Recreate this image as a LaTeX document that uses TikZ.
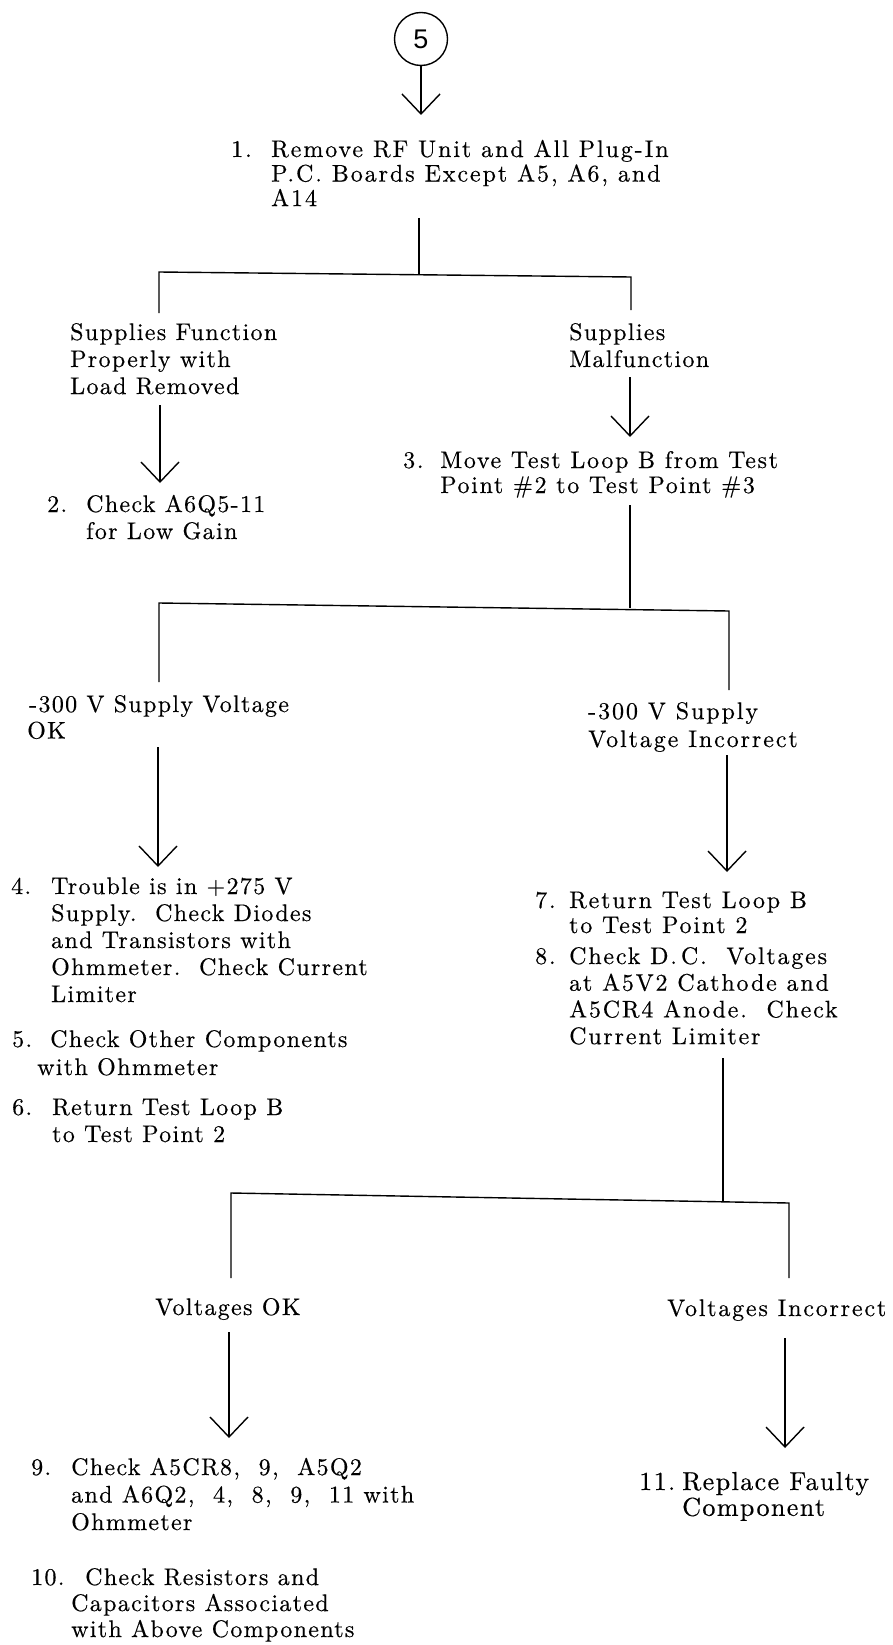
\documentclass[tikz,border=0pt]{standalone}
\usepackage{fontspec}
\setmainfont{lmroman10-regular.otf}[LetterSpace=5.5,FakeBold=0.4]
\newfontfamily\circfont{Liberation Sans}
\usetikzlibrary{arrows.meta}
\newcommand\itm[2]{\begin{tabular}[t]{@{}p{#1}@{}l@{}}#2\end{tabular}}
\newcommand\lns[1]{\begin{tabular}[t]{@{}l@{}}#1\end{tabular}}
\newcommand\wide[1]{\addfontfeatures{LetterSpace=#1}}
\begin{document}
\begin{tikzpicture}[x=1pt,y=-1pt,
  ln/.style={line width=1.4pt},
  arr/.style={ln,-{Straight Barb[length=20pt,width=38pt]}},
  txt/.style={anchor=base west,inner sep=0pt,font=\fontsize{24}{27}\selectfont},
  circ/.style={circle,draw,line width=1.4pt,minimum size=53pt,inner sep=0pt,font=\circfont\fontsize{27}{30}\selectfont}
]
\useasboundingbox (0,0) rectangle (893,1645);

% start circle
\node[circ] (c5) at (421,39) {5};
\coordinate (t1) at (421,115);
\draw[arr] (c5.south) -- (t1);

% step 1
\node[txt,font=\fontsize{24}{24.5}\selectfont\wide{8}] (b1) at (231,157)
  {\itm{40pt}{1.&Remove RF Unit and All Plug-In\\&P.C. Boards Except A5, A6, and\\&A14}};

\coordinate (v1a) at (419,218);
\coordinate (v1b) at (419,274);
\coordinate (h1l) at (159,272);
\coordinate (h1r) at (631,277);
\coordinate (l1b) at (159,313);
\coordinate (r1b) at (631,310);
\draw[ln] (v1a) -- (v1b);
\draw[ln] (l1b) -- (h1l) -- (h1r) -- (r1b);

% left branch
\node[txt] (sf) at (70,340) {\lns{Supplies Function\\Properly with\\Load Removed}};
\coordinate (a2a) at (160,405);
\coordinate (a2b) at (160,483);
\draw[arr] (a2a) -- (a2b);
\node[txt] (b2) at (47,512) {\itm{39pt}{2.&Check A6Q5-11\\&for Low Gain}};

% right branch
\node[txt] (sm) at (569,340) {\lns{Supplies\\Malfunction}};
\coordinate (a3a) at (630,377);
\coordinate (a3b) at (630,437);
\draw[arr] (a3a) -- (a3b);
\node[txt,font=\fontsize{24}{25}\selectfont\wide{7}] (b3) at (403,468)
  {\itm{37pt}{3.&Move Test Loop B from Test\\&Point \#2 to Test Point \#3}};

\coordinate (v3a) at (630,505);
\coordinate (v3b) at (630,608);
\coordinate (h3l) at (159,603);
\coordinate (h3r) at (729,611);
\coordinate (l3b) at (159,682);
\coordinate (r3b) at (729,690);
\draw[ln] (v3a) -- (v3b);
\draw[ln] (l3b) -- (h3l) -- (h3r) -- (r3b);

% -300 V OK
\node[txt,font=\fontsize{24}{26.5}\selectfont] (vok) at (29,712) {\lns{-300 V Supply Voltage\\\hspace*{-2pt}OK}};
\coordinate (a4a) at (158,747);
\coordinate (a4b) at (158,867);
\draw[arr] (a4a) -- (a4b);
\node[txt] (b4) at (11,894)
  {\itm{40pt}{4.&Trouble is in +275 V\\&Supply.\ \ Check Diodes\\&and Transistors with\\&Ohmmeter.\ \ Check Current\\&Limiter}};
\node[txt,font=\fontsize{24}{28}\selectfont] (b5) at (12,1047)
  {\itm{38pt}{5.&Check Other Components\\&\hspace*{-13pt}with Ohmmeter}};
\node[txt] (b6) at (12,1115)
  {\itm{40pt}{6.&Return Test Loop B\\&to Test Point 2}};

% -300 V incorrect
\node[txt,font=\fontsize{24}{28}\selectfont\wide{8}] (vin) at (588,719) {\lns{-300 V Supply\\Voltage Incorrect}};
\coordinate (a7a) at (727,755);
\coordinate (a7b) at (727,872);
\draw[arr] (a7a) -- (a7b);
\node[txt,font=\fontsize{24}{25}\selectfont\wide{7.5}] (b7) at (535,908)
  {\itm{34pt}{7.&Return Test Loop B\\&to Test Point 2}};
\node[txt,font=\fontsize{24}{26.7}\selectfont\wide{7.5}] (b8) at (535,964)
  {\itm{34pt}{8.&Check D.\,C.\ \ Voltages\\&at A5V2 Cathode and\\&A5CR4 Anode.\ \ Check\\&Current Limiter}};

\coordinate (v8a) at (723,1058);
\coordinate (v8b) at (723,1202);
\coordinate (h8l) at (231,1193);
\coordinate (h8r) at (789,1203);
\coordinate (l8b) at (231,1278);
\coordinate (r8b) at (789,1278);
\draw[ln] (v8a) -- (v8b);
\draw[ln] (l8b) -- (h8l) -- (h8r) -- (r8b);

% voltages OK
\node[txt] (gok) at (155,1315) {Voltages OK};
\coordinate (a9a) at (229,1332);
\coordinate (a9b) at (229,1438);
\draw[arr] (a9a) -- (a9b);
\node[txt,font=\fontsize{24}{27.5}\selectfont] (b9) at (31,1475)
  {\itm{40pt}{9.&Check A5CR8, \ 9, \ A5Q2\\&and A6Q2, \ 4, \ 8, \ 9, \ 11 with\\&Ohmmeter}};
\node[txt,font=\fontsize{24}{26}\selectfont] (b10) at (31,1585)
  {\itm{40pt}{10.&\hspace*{14pt}Check Resistors and\\&Capacitors Associated\\&with Above Components}};

% voltages incorrect
\node[txt,font=\fontsize{24}{27}\selectfont\wide{7.5}] (gin) at (667,1316) {Voltages Incorrect};
\coordinate (a11a) at (785,1338);
\coordinate (a11b) at (785,1448);
\draw[arr] (a11a) -- (a11b);
\node[txt,font=\fontsize{26}{25}\selectfont] (b11) at (639,1490)
  {\itm{43pt}{11.&Replace Faulty\\&Component}};
\end{tikzpicture}
\end{document}
